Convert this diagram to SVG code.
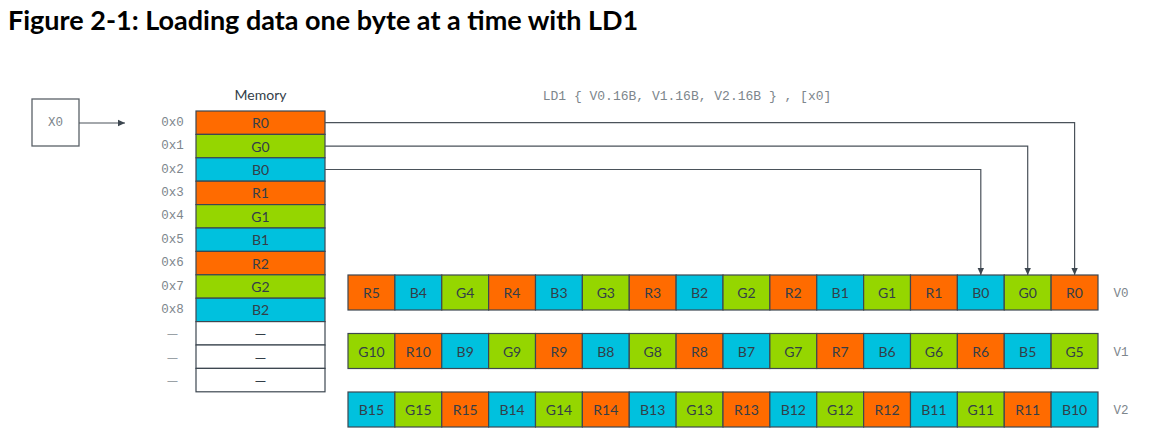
<svg xmlns="http://www.w3.org/2000/svg" width="1154" height="442" viewBox="0 0 1154 442">
<style>
.bg{fill:#ffffff}
.title{font-family:Lato,"Liberation Sans",sans-serif;font-weight:bold;font-size:27px;fill:#000}
.lbl{font-family:Lato,"Liberation Sans",sans-serif;font-size:14px;fill:#333e48;text-anchor:middle;dominant-baseline:central}
.mono{font-family:"Liberation Mono","DejaVu Sans Mono",monospace;font-size:12.5px;fill:#7d868c;text-anchor:middle;dominant-baseline:central}
.dash{font-family:Lato,"Liberation Sans",sans-serif;font-size:15px;text-anchor:middle;dominant-baseline:central}
.cell{stroke:#3d4750;stroke-width:1.2}
.r{fill:#ff6b00}
.g{fill:#95d600}
.b{fill:#00c1de}
.w{fill:#ffffff}
.box{fill:#fff;stroke:#5a6168;stroke-width:1.3}
.conn{fill:none;stroke:#4a525a;stroke-width:1.2}
</style>
<defs>
<marker id="ah" markerWidth="8" markerHeight="8" refX="7" refY="4" orient="auto" markerUnits="userSpaceOnUse">
<path d="M0,0.8 L7,4 L0,7.2 Z" fill="#3d4750"/>
</marker>
</defs>
<rect class="bg" x="0" y="0" width="1154" height="442"/>
<text class="title" x="8" y="29.5">Figure 2-1: Loading data one byte at a time with LD1</text>
<text class="mono" x="687" y="96.5" style="font-size:13px">LD1 { V0.16B, V1.16B, V2.16B } , [x0]</text>

<g id="x0">
<rect class="box" x="32" y="99" width="47" height="47"/>
<text class="mono" x="55.5" y="122.5">X0</text>
</g>

<g id="memory">
<text class="lbl" x="260.5" y="94">Memory</text>
<rect class="cell r" x="196" y="111" width="129" height="23.4"/>
<rect class="cell g" x="196" y="134.4" width="129" height="23.4"/>
<rect class="cell b" x="196" y="157.8" width="129" height="23.4"/>
<rect class="cell r" x="196" y="181.2" width="129" height="23.4"/>
<rect class="cell g" x="196" y="204.6" width="129" height="23.4"/>
<rect class="cell b" x="196" y="228" width="129" height="23.4"/>
<rect class="cell r" x="196" y="251.4" width="129" height="23.4"/>
<rect class="cell g" x="196" y="274.8" width="129" height="23.4"/>
<rect class="cell b" x="196" y="298.2" width="129" height="23.4"/>
<rect class="cell w" x="196" y="321.6" width="129" height="23.4"/>
<rect class="cell w" x="196" y="345" width="129" height="23.4"/>
<rect class="cell w" x="196" y="368.4" width="129" height="23.4"/>
<text class="lbl" x="260.5" y="122.7">R0</text>
<text class="lbl" x="260.5" y="146.1">G0</text>
<text class="lbl" x="260.5" y="169.5">B0</text>
<text class="lbl" x="260.5" y="192.9">R1</text>
<text class="lbl" x="260.5" y="216.3">G1</text>
<text class="lbl" x="260.5" y="239.7">B1</text>
<text class="lbl" x="260.5" y="263.1">R2</text>
<text class="lbl" x="260.5" y="286.5">G2</text>
<text class="lbl" x="260.5" y="309.9">B2</text>
<text class="dash" x="260.5" y="333.3" fill="#333e48">—</text>
<text class="dash" x="260.5" y="356.7" fill="#333e48">—</text>
<text class="dash" x="260.5" y="380.1" fill="#333e48">—</text>
<text class="mono" x="172.5" y="122.7">0x0</text>
<text class="mono" x="172.5" y="146.1">0x1</text>
<text class="mono" x="172.5" y="169.5">0x2</text>
<text class="mono" x="172.5" y="192.9">0x3</text>
<text class="mono" x="172.5" y="216.3">0x4</text>
<text class="mono" x="172.5" y="239.7">0x5</text>
<text class="mono" x="172.5" y="263.1">0x6</text>
<text class="mono" x="172.5" y="286.5">0x7</text>
<text class="mono" x="172.5" y="309.9">0x8</text>
<text class="dash" x="172.5" y="333.3" fill="#9aa1a6">—</text>
<text class="dash" x="172.5" y="356.7" fill="#9aa1a6">—</text>
<text class="dash" x="172.5" y="380.1" fill="#9aa1a6">—</text>
</g>

<g id="v0">
<rect class="cell r" x="348" y="275" width="46.875" height="35"/>
<rect class="cell b" x="394.875" y="275" width="46.875" height="35"/>
<rect class="cell g" x="441.75" y="275" width="46.875" height="35"/>
<rect class="cell r" x="488.625" y="275" width="46.875" height="35"/>
<rect class="cell b" x="535.5" y="275" width="46.875" height="35"/>
<rect class="cell g" x="582.375" y="275" width="46.875" height="35"/>
<rect class="cell r" x="629.25" y="275" width="46.875" height="35"/>
<rect class="cell b" x="676.125" y="275" width="46.875" height="35"/>
<rect class="cell g" x="723" y="275" width="46.875" height="35"/>
<rect class="cell r" x="769.875" y="275" width="46.875" height="35"/>
<rect class="cell b" x="816.75" y="275" width="46.875" height="35"/>
<rect class="cell g" x="863.625" y="275" width="46.875" height="35"/>
<rect class="cell r" x="910.5" y="275" width="46.875" height="35"/>
<rect class="cell b" x="957.375" y="275" width="46.875" height="35"/>
<rect class="cell g" x="1004.25" y="275" width="46.875" height="35"/>
<rect class="cell r" x="1051.125" y="275" width="46.875" height="35"/>
<text class="lbl" x="371.44" y="292.5">R5</text>
<text class="lbl" x="418.31" y="292.5">B4</text>
<text class="lbl" x="465.19" y="292.5">G4</text>
<text class="lbl" x="512.06" y="292.5">R4</text>
<text class="lbl" x="558.94" y="292.5">B3</text>
<text class="lbl" x="605.81" y="292.5">G3</text>
<text class="lbl" x="652.69" y="292.5">R3</text>
<text class="lbl" x="699.56" y="292.5">B2</text>
<text class="lbl" x="746.44" y="292.5">G2</text>
<text class="lbl" x="793.31" y="292.5">R2</text>
<text class="lbl" x="840.19" y="292.5">B1</text>
<text class="lbl" x="887.06" y="292.5">G1</text>
<text class="lbl" x="933.94" y="292.5">R1</text>
<text class="lbl" x="980.81" y="292.5">B0</text>
<text class="lbl" x="1027.69" y="292.5">G0</text>
<text class="lbl" x="1074.56" y="292.5">R0</text>
<text class="mono" x="1121" y="294">V0</text>
</g>

<g id="v1">
<rect class="cell g" x="348" y="333.5" width="46.875" height="35"/>
<rect class="cell r" x="394.875" y="333.5" width="46.875" height="35"/>
<rect class="cell b" x="441.75" y="333.5" width="46.875" height="35"/>
<rect class="cell g" x="488.625" y="333.5" width="46.875" height="35"/>
<rect class="cell r" x="535.5" y="333.5" width="46.875" height="35"/>
<rect class="cell b" x="582.375" y="333.5" width="46.875" height="35"/>
<rect class="cell g" x="629.25" y="333.5" width="46.875" height="35"/>
<rect class="cell r" x="676.125" y="333.5" width="46.875" height="35"/>
<rect class="cell b" x="723" y="333.5" width="46.875" height="35"/>
<rect class="cell g" x="769.875" y="333.5" width="46.875" height="35"/>
<rect class="cell r" x="816.75" y="333.5" width="46.875" height="35"/>
<rect class="cell b" x="863.625" y="333.5" width="46.875" height="35"/>
<rect class="cell g" x="910.5" y="333.5" width="46.875" height="35"/>
<rect class="cell r" x="957.375" y="333.5" width="46.875" height="35"/>
<rect class="cell b" x="1004.25" y="333.5" width="46.875" height="35"/>
<rect class="cell g" x="1051.125" y="333.5" width="46.875" height="35"/>
<text class="lbl" x="371.44" y="351">G10</text>
<text class="lbl" x="418.31" y="351">R10</text>
<text class="lbl" x="465.19" y="351">B9</text>
<text class="lbl" x="512.06" y="351">G9</text>
<text class="lbl" x="558.94" y="351">R9</text>
<text class="lbl" x="605.81" y="351">B8</text>
<text class="lbl" x="652.69" y="351">G8</text>
<text class="lbl" x="699.56" y="351">R8</text>
<text class="lbl" x="746.44" y="351">B7</text>
<text class="lbl" x="793.31" y="351">G7</text>
<text class="lbl" x="840.19" y="351">R7</text>
<text class="lbl" x="887.06" y="351">B6</text>
<text class="lbl" x="933.94" y="351">G6</text>
<text class="lbl" x="980.81" y="351">R6</text>
<text class="lbl" x="1027.69" y="351">B5</text>
<text class="lbl" x="1074.56" y="351">G5</text>
<text class="mono" x="1121" y="352.5">V1</text>
</g>

<g id="v2">
<rect class="cell b" x="348" y="392" width="46.875" height="35"/>
<rect class="cell g" x="394.875" y="392" width="46.875" height="35"/>
<rect class="cell r" x="441.75" y="392" width="46.875" height="35"/>
<rect class="cell b" x="488.625" y="392" width="46.875" height="35"/>
<rect class="cell g" x="535.5" y="392" width="46.875" height="35"/>
<rect class="cell r" x="582.375" y="392" width="46.875" height="35"/>
<rect class="cell b" x="629.25" y="392" width="46.875" height="35"/>
<rect class="cell g" x="676.125" y="392" width="46.875" height="35"/>
<rect class="cell r" x="723" y="392" width="46.875" height="35"/>
<rect class="cell b" x="769.875" y="392" width="46.875" height="35"/>
<rect class="cell g" x="816.75" y="392" width="46.875" height="35"/>
<rect class="cell r" x="863.625" y="392" width="46.875" height="35"/>
<rect class="cell b" x="910.5" y="392" width="46.875" height="35"/>
<rect class="cell g" x="957.375" y="392" width="46.875" height="35"/>
<rect class="cell r" x="1004.25" y="392" width="46.875" height="35"/>
<rect class="cell b" x="1051.125" y="392" width="46.875" height="35"/>
<text class="lbl" x="371.44" y="409.5">B15</text>
<text class="lbl" x="418.31" y="409.5">G15</text>
<text class="lbl" x="465.19" y="409.5">R15</text>
<text class="lbl" x="512.06" y="409.5">B14</text>
<text class="lbl" x="558.94" y="409.5">G14</text>
<text class="lbl" x="605.81" y="409.5">R14</text>
<text class="lbl" x="652.69" y="409.5">B13</text>
<text class="lbl" x="699.56" y="409.5">G13</text>
<text class="lbl" x="746.44" y="409.5">R13</text>
<text class="lbl" x="793.31" y="409.5">B12</text>
<text class="lbl" x="840.19" y="409.5">G12</text>
<text class="lbl" x="887.06" y="409.5">R12</text>
<text class="lbl" x="933.94" y="409.5">B11</text>
<text class="lbl" x="980.81" y="409.5">G11</text>
<text class="lbl" x="1027.69" y="409.5">R11</text>
<text class="lbl" x="1074.56" y="409.5">B10</text>
<text class="mono" x="1121" y="411">V2</text>
</g>

<g id="connectors">
<path class="conn" d="M79,123 H125" marker-end="url(#ah)"/>
<path class="conn" d="M325,122.7 H1074.6 V275" marker-end="url(#ah)"/>
<path class="conn" d="M325,146.1 H1027.7 V275" marker-end="url(#ah)"/>
<path class="conn" d="M325,169.5 H980.8 V275" marker-end="url(#ah)"/>
</g>
</svg>
